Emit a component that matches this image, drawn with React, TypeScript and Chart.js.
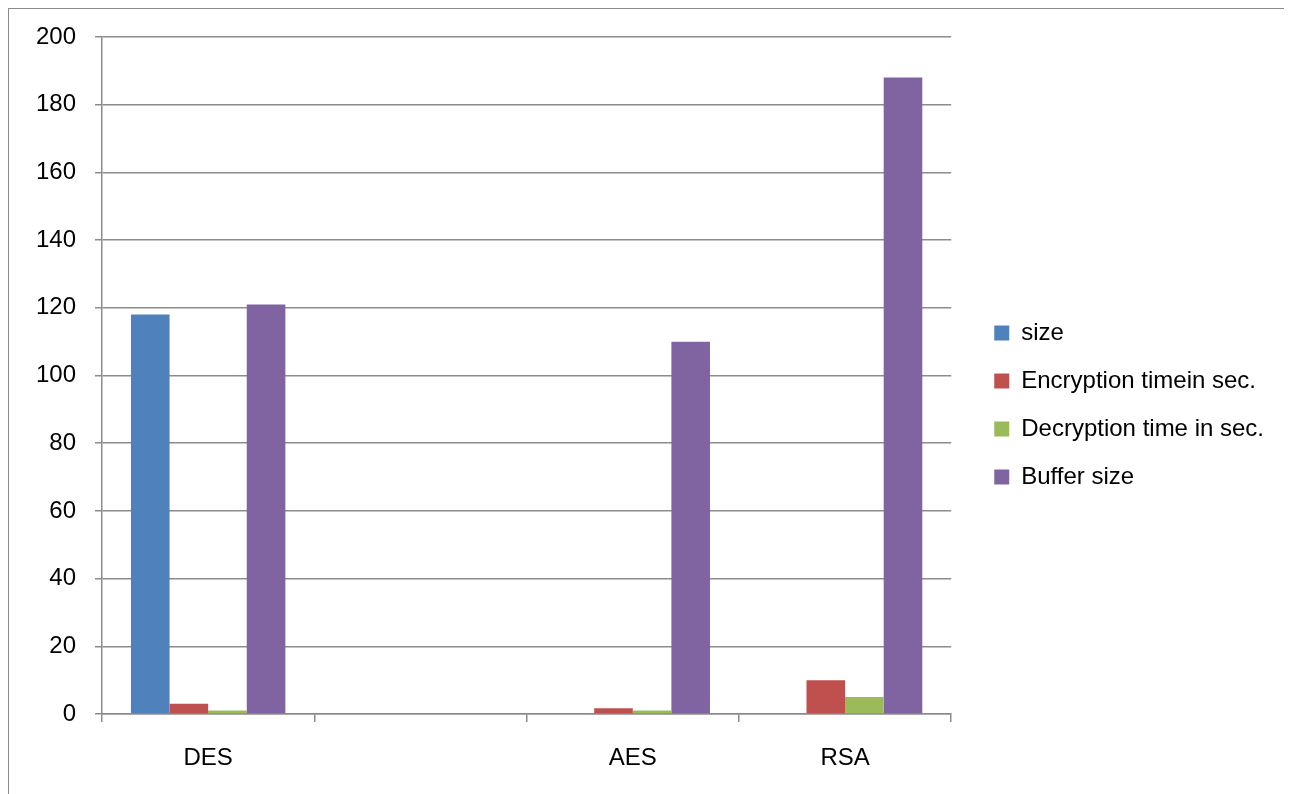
import { useEffect, useRef } from 'react';
import { Chart, registerables } from 'chart.js';

Chart.register(...registerables);

const categories = ['DES', '', 'AES', 'RSA'];
const seriesNames = ['size', 'Encryption timein sec.', 'Decryption time in sec.', 'Buffer size'];
const sizeValues = [118, 0, 0, 0];
const encryptionValues = [3, 0, 1.7, 10];
const decryptionValues = [1, 0, 1, 5];
const bufferValues = [121, 0, 110, 188];
const seriesColors = ['#4F81BD', '#C0504D', '#9BBB59', '#8064A2'];
const yMin = 0;
const yMax = 200;
const yStep = 20;

export default function App() {
  const ref = useRef<HTMLCanvasElement>(null);

  useEffect(() => {
    document.documentElement.style.overflow = 'hidden';
    document.body.style.overflow = 'hidden';
    const family = '"Liberation Sans", Arial, sans-serif';
    const font = { family, size: 24 };
    const gridColor = '#8c8c8c';

    // legend geometry: keep legend left edge at a fixed place
    const mctx = document.createElement('canvas').getContext('2d') as CanvasRenderingContext2D;
    mctx.font = `24px ${family}`;
    const textW = Math.max(...seriesNames.map((n) => mctx.measureText(n).width));
    const legendPad = 24;
    const legendW = Math.ceil(legendPad + 15 + 12 + textW + 10);
    const legendLeft = 961;
    const rightPad = Math.max(0, 1281 - legendLeft - legendW);

    const values = [sizeValues, encryptionValues, decryptionValues, bufferValues];
    const chart = new Chart(ref.current as HTMLCanvasElement, {
      type: 'bar',
      data: {
        labels: categories,
        datasets: values.map((v, i) => ({
          label: seriesNames[i],
          data: v,
          backgroundColor: seriesColors[i],
          borderWidth: 0,
          categoryPercentage: 4 / 5.5,
          barPercentage: 1,
        })),
      },
      options: {
        animation: false,
        responsive: false,
        maintainAspectRatio: false,
        layout: { padding: { top: 7, right: rightPad, bottom: 0, left: 0 } },
        plugins: {
          legend: {
            position: 'right',
            maxWidth: legendW,
            labels: {
              boxWidth: 15,
              boxHeight: 15,
              padding: legendPad,
              color: '#000',
              font,
            },
          },
          tooltip: { enabled: false },
        },
        scales: {
          x: {
            offset: true,
            grid: {
              display: true,
              drawOnChartArea: false,
              drawTicks: true,
              tickLength: 8,
              color: gridColor,
              lineWidth: 1.5,
              offset: true,
            },
            border: { display: true, color: gridColor, width: 1.5 },
            ticks: { color: '#000', font, padding: 22, maxRotation: 0, autoSkip: false },
            afterFit: (s: any) => { s.height = 80; },
          },
          y: {
            min: yMin,
            max: yMax,
            ticks: { stepSize: yStep, color: '#000', font, padding: 19 },
            grid: { color: gridColor, lineWidth: 1.5, tickLength: 7 },
            border: { display: true, color: gridColor, width: 1.5 },
            afterFit: (s: any) => {
              s.width = 93;
              s.paddingTop = 0;
              s.paddingBottom = 0;
            },
          },
          xTop: {
            type: 'category',
            position: 'top',
            display: true,
            labels: [],
            grid: { display: false },
            border: { display: false },
            ticks: { display: false },
            afterFit: (s: any) => { s.height = 21; },
          },
          yRight: {
            type: 'linear',
            position: 'right',
            display: true,
            grid: { display: false },
            border: { display: false },
            ticks: { display: false },
            afterFit: (s: any) => { s.width = 19; },
          },
        },
      } as any,
    });
    return () => chart.destroy();
  }, []);

  return (
    <div
      style={{
        width: 1281,
        height: 785,
        borderTop: '1px solid #8c8c8c',
        borderLeft: '1px solid #8c8c8c',
        borderRight: '1px solid #8c8c8c',
        background: '#fff',
      }}
    >
      <canvas ref={ref} width={1281} height={785} style={{ display: 'block', width: 1281, height: 785 }} />
    </div>
  );
}
